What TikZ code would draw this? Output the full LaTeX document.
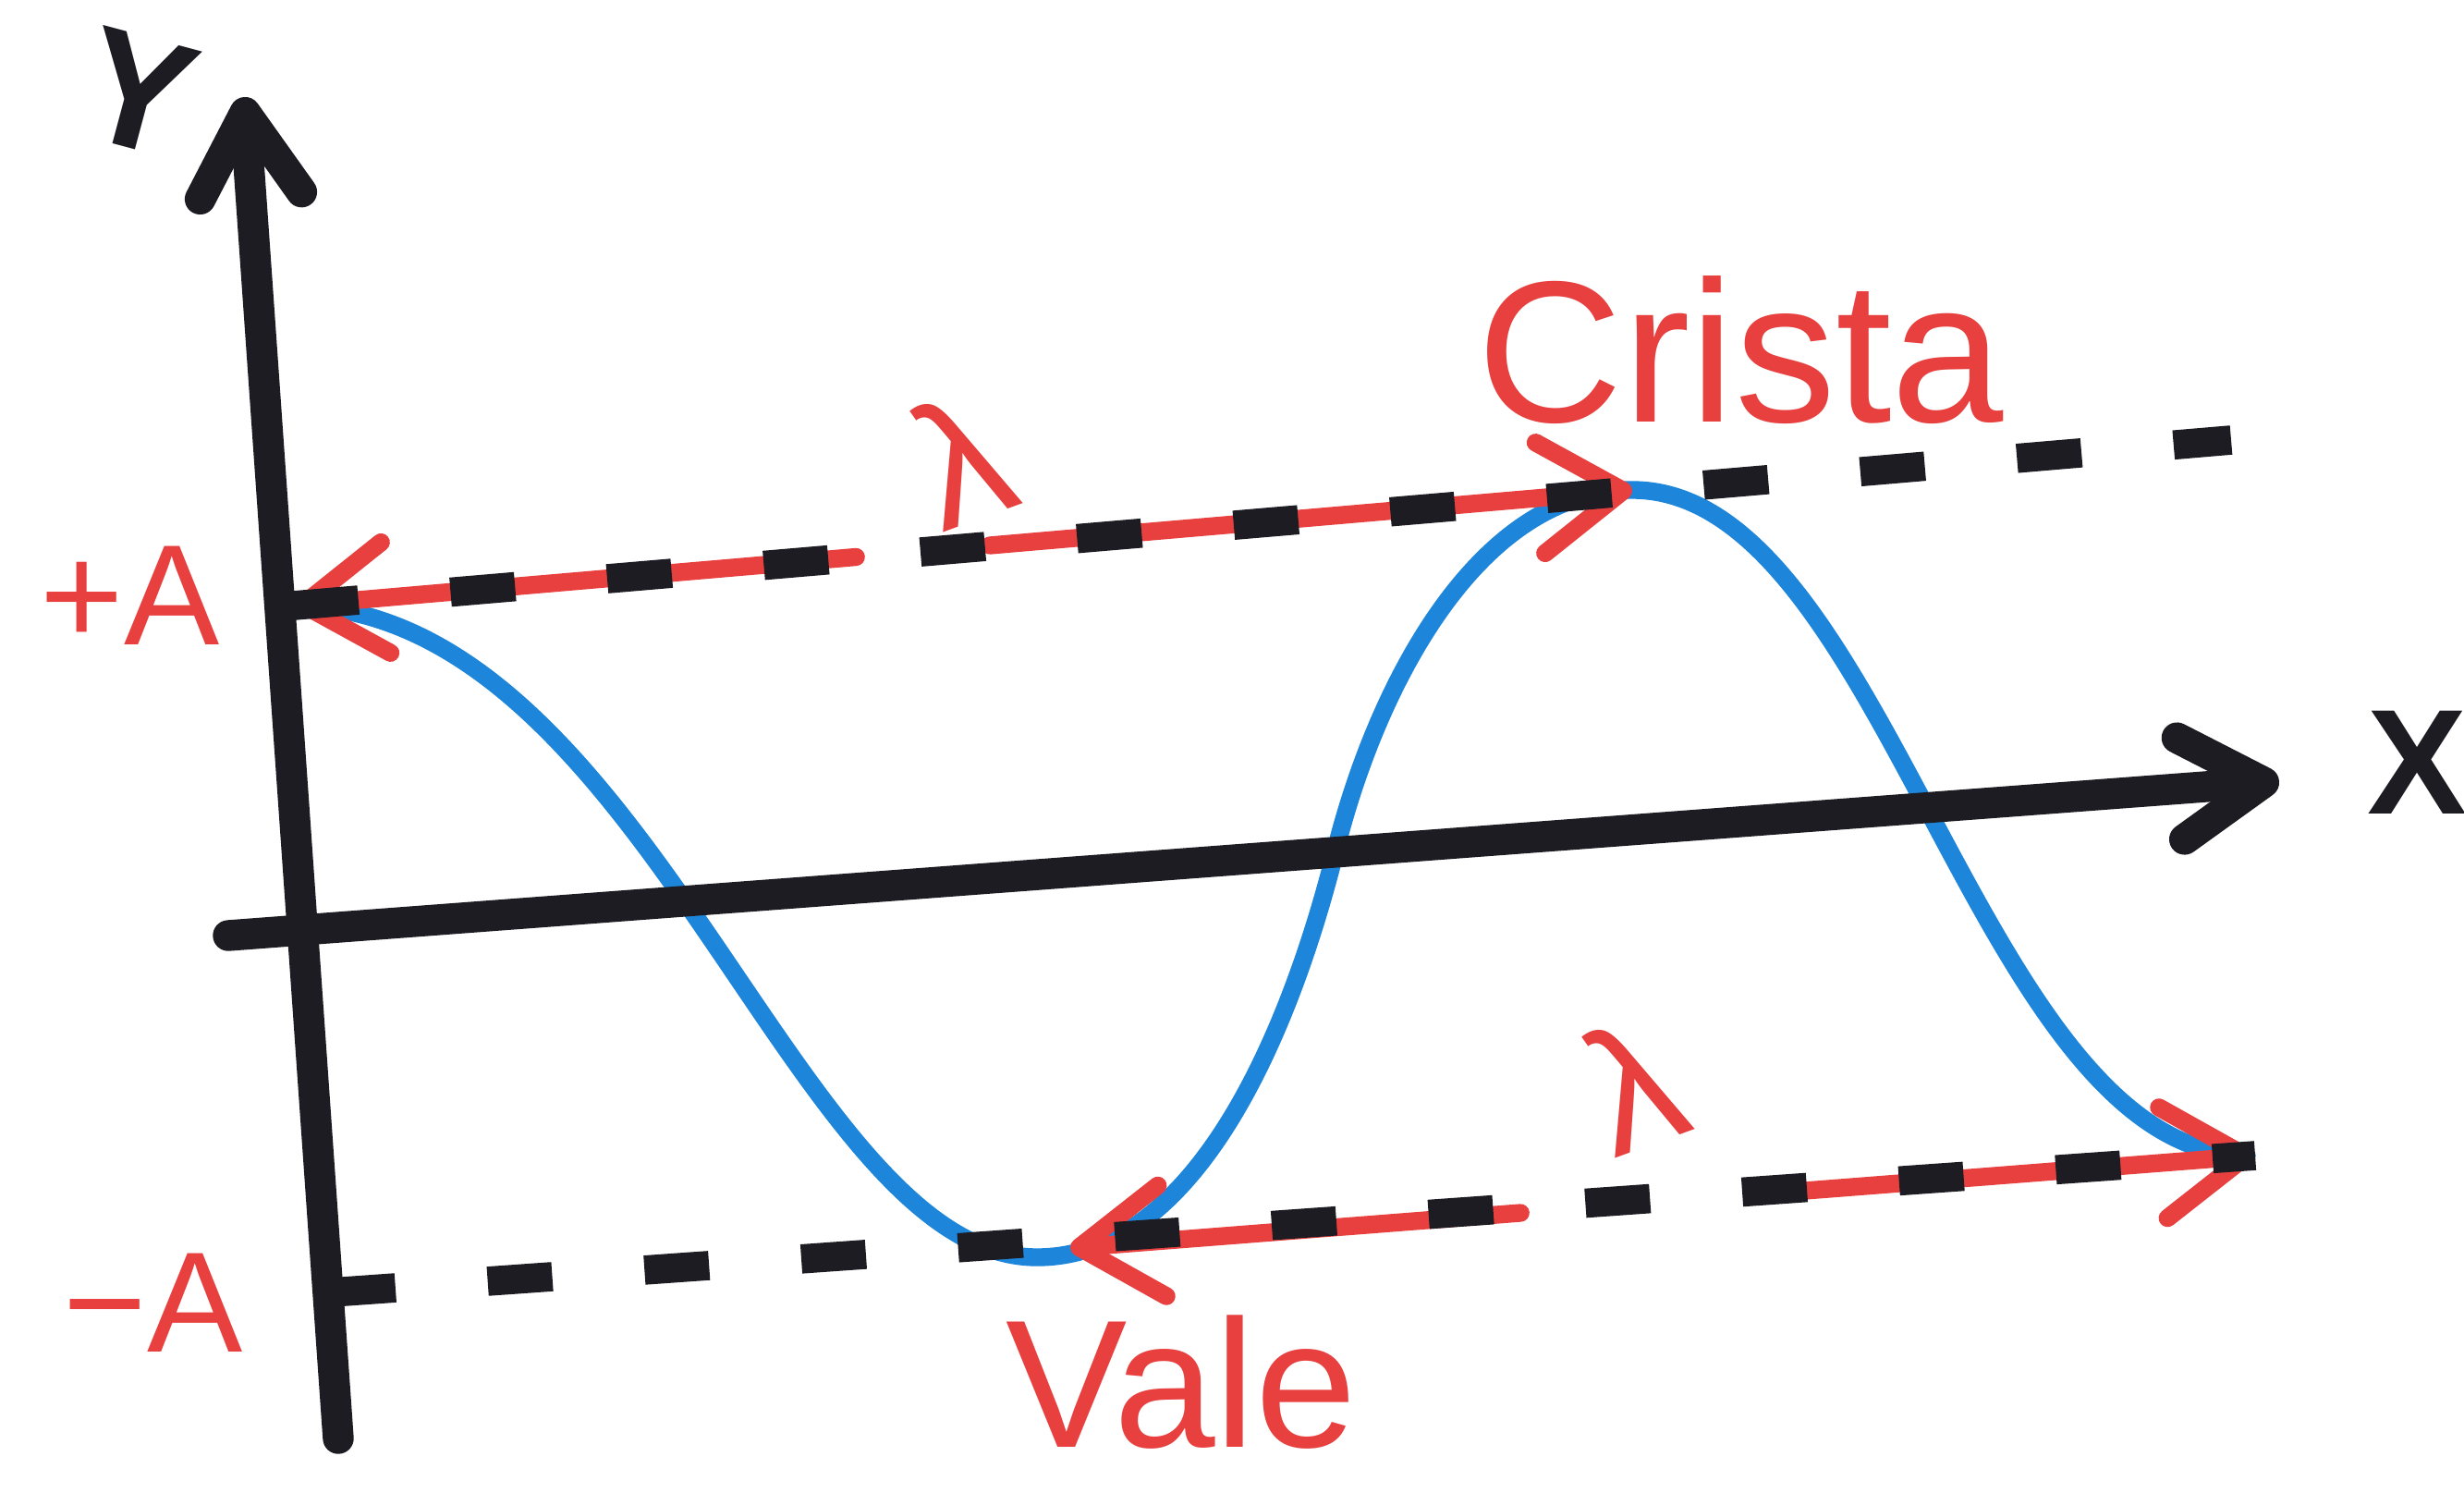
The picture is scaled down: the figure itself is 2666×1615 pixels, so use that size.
\documentclass[tikz,border=0pt]{standalone}
\usepackage{fontspec}
\setmainfont{Liberation Sans}
\usetikzlibrary{positioning,arrows.meta,calc}
\definecolor{inkblack}{HTML}{1C1C22}
\definecolor{inkred}{HTML}{E8403F}
\definecolor{inkblue}{HTML}{1E86DA}

\begin{document}
\begin{tikzpicture}[x=0.01cm,y=-0.01cm,line cap=round,
  axis/.style={draw=inkblack,line width=9.5pt,-{Straight Barb[round,length=9mm,width=11mm]}},
  wave/.style={draw=inkblue,line width=5.5pt},
  level/.style={draw=inkblack,line width=9pt,line cap=butt,dash pattern=on 7mm off 10mm},
  span/.style={draw=inkred,line width=5.5pt,>={Straight Barb[round,length=9mm,width=12mm]}},
  lab/.style={text=inkred,inner sep=0pt},
  axlab/.style={text=inkblack,inner sep=0pt,font=\bfseries\fontsize{50}{50}\selectfont}]
\useasboundingbox[fill=white] (0,0) rectangle (2666,1615);

% points
\coordinate (yBot) at (366,1556);
\coordinate (yTip) at (264,105);
\coordinate (xL) at (247,1012);
\coordinate (xTip) at (2466,845);
\coordinate (pA) at (318,655);
\coordinate (crest) at (1766,530);
\coordinate (topEnd) at (2414,476);
\coordinate (mA) at (358,1398);
\coordinate (trough) at (1122,1360);
\coordinate (vale) at (1158,1350);
\coordinate (botEnd) at (2440,1250);

% wave
\draw[wave] (pA) .. controls (700,660) and (860,1360) .. (trough)
  .. controls (1300,1360) and (1400,1100) .. (1445,920)
  .. controls (1490,740) and (1600,530) .. (crest)
  .. controls (2040,530) and (2140,1245) .. (2431,1250);

% wavelength spans
\draw[span,<-] (pA) -- ($(pA)!0.42!(crest)$);
\draw[span,->] ($(pA)!0.52!(crest)$) -- (crest);
\draw[span,<-] (vale) -- ($(vale)!0.38!(botEnd)$);
\draw[span,->] ($(vale)!0.59!(botEnd)$) -- (botEnd);

% levels +A, -A
\draw[level] (pA) -- (topEnd);
\draw[level] (mA) -- (botEnd);

% axes
\draw[axis] (yBot) -- (yTip);
\draw[axis] (xL) -- (xTip);

% labels
\node[axlab,rotate=-15] (ylab) at (150,100) {Y};
\node[axlab,font=\bfseries\fontsize{46}{46}\selectfont] (xlab) at (2615,825) {X};
\node[lab,anchor=base west,font=\fontsize{44}{44}\selectfont] (plusA) at (43,697) {+A};
\node[lab,anchor=base west,font=\fontsize{44}{44}\selectfont] (minusA) at (68,1462) {−A};
\node[lab,font=\fontsize{62}{62}\selectfont,anchor=base west] (cristaLab) at (1598,456) {Crista};
\node[lab,font=\fontsize{56}{56}\selectfont,anchor=base west] (valeLab) at (1088,1565) {Vale};
\node[lab,font=\fontsize{54}{54}\selectfont,rotate=20] (lamTop) at (1041,496) {λ};
\node[lab,font=\fontsize{54}{54}\selectfont,rotate=20] (lamBot) at (1768,1173) {λ};
\end{tikzpicture}
\end{document}
